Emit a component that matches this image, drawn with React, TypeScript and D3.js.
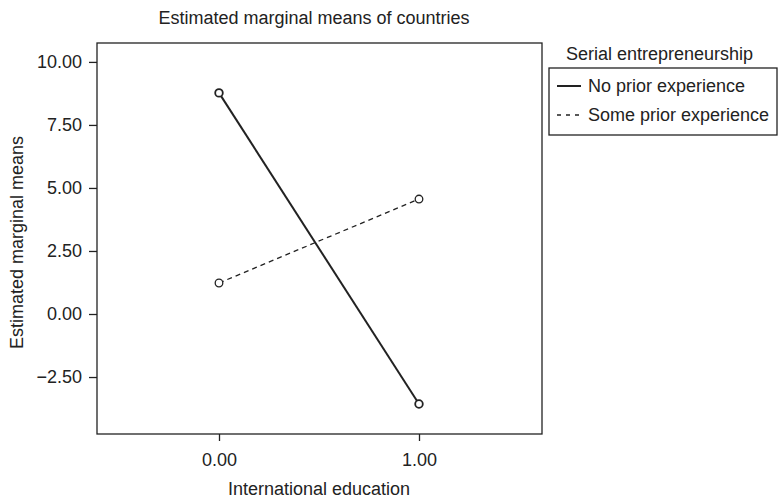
import React, { useRef, useEffect } from 'react'
import * as d3 from 'd3'

const xCategories = [0, 1]
const xTickLabels = ['0.00', '1.00']
const yTicks = [-2.5, 0, 2.5, 5, 7.5, 10]
const seriesNames = ['No prior experience', 'Some prior experience']
const noPrior = [8.77, -3.57]
const somePrior = [1.23, 4.56]

const App = () => {
	const svgRef = useRef<SVGSVGElement>(null)

	useEffect(() => {
		const svg = d3.select(svgRef.current)
		svg.selectAll('*').remove()

		const ink = '#222'
		const font = '"Liberation Sans", Arial, sans-serif'
		const fs = '18px'
		const left = 97,
			top = 43,
			right = 542,
			bottom = 434

		const x = d3.scaleLinear().domain([-0.61, 1.615]).range([left, right])
		const y = d3.scaleLinear().domain([-4.76, 10.75]).range([bottom, top])

		svg.append('rect')
			.attr('x', left)
			.attr('y', top)
			.attr('width', right - left)
			.attr('height', bottom - top)
			.attr('fill', 'none')
			.attr('stroke', ink)
			.attr('stroke-width', 1.3)

		const yAxis = svg
			.append('g')
			.attr('transform', `translate(${left},0)`)
			.call(
				d3
					.axisLeft(y)
					.tickValues(yTicks)
					.tickSize(8)
					.tickPadding(7)
					.tickFormat((d) => {
						const v = d as number
						return (v < 0 ? '\u2212' : '') + Math.abs(v).toFixed(2)
					})
			)
		yAxis.select('.domain').remove()
		yAxis.selectAll('line').attr('stroke', ink).attr('stroke-width', 1.3)
		yAxis.selectAll('text')
			.attr('fill', ink)
			.style('font-family', font)
			.style('font-size', fs)

		const xAxis = svg
			.append('g')
			.attr('transform', `translate(0,${bottom})`)
			.call(
				d3
					.axisBottom(x)
					.tickValues(xCategories)
					.tickSize(7)
					.tickPadding(12)
					.tickFormat((d, i) => xTickLabels[i])
			)
		xAxis.select('.domain').remove()
		xAxis.selectAll('line').attr('stroke', ink).attr('stroke-width', 1.3)
		xAxis.selectAll('text')
			.attr('fill', ink)
			.style('font-family', font)
			.style('font-size', fs)

		const line = d3
			.line<number>()
			.x((d, i) => x(xCategories[i]))
			.y((d) => y(d))

		const series = [
			{ name: seriesNames[0], values: noPrior, dash: null, width: 2 },
			{ name: seriesNames[1], values: somePrior, dash: '5,4', width: 1.3 },
		]

		series.forEach((s) => {
			svg.append('path')
				.datum(s.values)
				.attr('d', line)
				.attr('fill', 'none')
				.attr('stroke', ink)
				.attr('stroke-width', s.width)
				.attr('stroke-dasharray', s.dash)
			svg.selectAll(null)
				.data(s.values)
				.join('circle')
				.attr('cx', (d, i) => x(xCategories[i]))
				.attr('cy', (d) => y(d))
				.attr('r', 3.8)
				.attr('fill', 'white')
				.attr('stroke', ink)
				.attr('stroke-width', s.width === 2 ? 1.8 : 1.3)
		})

		svg.append('text')
			.attr('x', 314)
			.attr('y', 24)
			.attr('text-anchor', 'middle')
			.style('font-family', font)
			.style('font-size', fs)
			.attr('fill', ink)
			.text('Estimated marginal means of countries')

		svg.append('text')
			.attr('transform', `translate(23,${(top + bottom) / 2 + 4}) rotate(-90)`)
			.attr('text-anchor', 'middle')
			.style('font-family', font)
			.style('font-size', fs)
			.attr('fill', ink)
			.text('Estimated marginal means')

		svg.append('text')
			.attr('x', 319)
			.attr('y', 495)
			.attr('text-anchor', 'middle')
			.style('font-family', font)
			.style('font-size', fs)
			.attr('fill', ink)
			.text('International education')

		// legend
		svg.append('text')
			.attr('x', 566)
			.attr('y', 60)
			.style('font-family', font)
			.style('font-size', fs)
			.attr('fill', ink)
			.text('Serial entrepreneurship')

		svg.append('rect')
			.attr('x', 549)
			.attr('y', 68)
			.attr('width', 228)
			.attr('height', 67)
			.attr('fill', 'none')
			.attr('stroke', ink)
			.attr('stroke-width', 1.3)

		series.forEach((s, i) => {
			const ly = 86 + i * 29
			svg.append('line')
				.attr('x1', 557)
				.attr('x2', 581)
				.attr('y1', ly)
				.attr('y2', ly)
				.attr('stroke', ink)
				.attr('stroke-width', s.width)
				.attr('stroke-dasharray', s.dash ? '4,5' : null)
			svg.append('text')
				.attr('x', 588)
				.attr('y', ly + 6)
				.style('font-family', font)
				.style('font-size', fs)
				.attr('fill', ink)
				.text(s.name)
		})
	}, [])

	return (
		<svg
			ref={svgRef}
			width={782}
			height={499}
			style={{ position: 'absolute', left: 0, top: 0 }}
		></svg>
	)
}

export default App
